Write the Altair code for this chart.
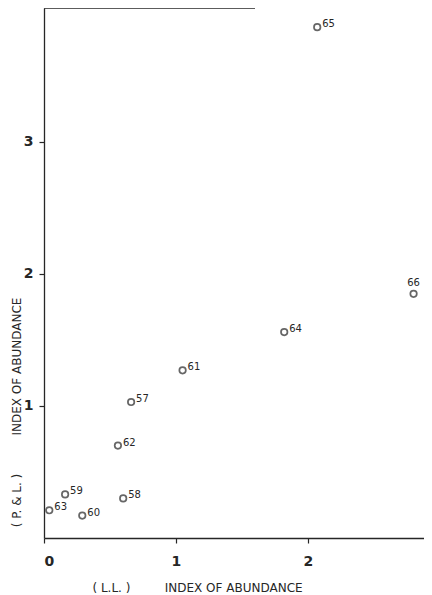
import altair as alt
import pandas as pd

# index of abundance, L.L. (x) against P. & L. (y), one point per year
years = ["57", "58", "59", "60", "61", "62", "63", "64", "65", "66"]
ll_index = [0.66, 0.60, 0.16, 0.29, 1.05, 0.56, 0.04, 1.82, 2.07, 2.80]
pl_index = [1.03, 0.30, 0.33, 0.17, 1.27, 0.70, 0.21, 1.56, 3.87, 1.85]

x_ticks = [0, 1, 2]
y_ticks = [1, 2, 3]

INK = "#262626"
FONT = "DejaVu Sans"
NB = "\u00a0"

df = pd.DataFrame({"year": years, "ll": ll_index, "pl": pl_index})

x_scale = alt.Scale(domain=[0, 2.879], nice=False, zero=True)
y_scale = alt.Scale(domain=[0, 4.015], nice=False, zero=True)

x_axis = alt.Axis(
    values=x_ticks,
    grid=False,
    domainColor=INK,
    domainWidth=1.3,
    tickColor=INK,
    tickSize=5,
    tickWidth=1.2,
    labelColor=INK,
    labelFont=FONT,
    labelFontSize=14,
    labelFontWeight="bold",
    labelPadding=11,
    title=f"( L.L. ){NB * 9}INDEX{NB}OF{NB}ABUNDANCE",
    titleFont=FONT,
    titleFontSize=12,
    titleFontWeight=500,
    titleColor=INK,
    titleX=153,
    titleY=53,
    titleBaseline="alphabetic",
    titleAlign="center",
)
y_axis = alt.Axis(
    values=y_ticks,
    grid=False,
    domainColor=INK,
    domainWidth=1.3,
    tickColor=INK,
    tickSize=5,
    tickWidth=1.2,
    labelColor=INK,
    labelFont=FONT,
    labelFontSize=14,
    labelFontWeight="bold",
    labelPadding=6,
    title=f"( P. & L. ){NB * 10}INDEX{NB}OF{NB}ABUNDANCE",
    titleFont=FONT,
    titleFontSize=12,
    titleFontWeight=500,
    titleColor=INK,
    titleAngle=270,
    titleX=-28,
    titleY=404,
    titleBaseline="middle",
    titleAlign="center",
)

base = alt.Chart(df).encode(
    x=alt.X("ll:Q", scale=x_scale, axis=x_axis),
    y=alt.Y("pl:Q", scale=y_scale, axis=y_axis),
)

points = base.mark_point(shape="circle", filled=False, size=42, strokeWidth=1.7, color=INK)

labels = base.transform_filter(alt.datum.year != "66").mark_text(
    align="left", baseline="middle", dx=5, dy=-3, font=FONT, fontSize=10, color=INK
).encode(text="year:N")

label_above = base.transform_filter(alt.datum.year == "66").mark_text(
    align="center", baseline="bottom", dy=-6, font=FONT, fontSize=10, color=INK
).encode(text="year:N")

# partial top frame line, as in the original figure
top_line = alt.Chart(df.head(1)).mark_rule(color=INK, strokeWidth=1.3).encode(
    x=alt.value(0), x2=alt.value(211), y=alt.value(0)
)

chart = (
    alt.layer(top_line, points, labels, label_above)
    .properties(
        width=380,
        height=530,
        autosize=alt.AutoSizeParams(type="none"),
        padding={"left": 36, "top": 0, "right": 0, "bottom": 57},
        background="white",
    )
    .configure_view(stroke=None)
)

chart.save("out.html", embed_options={"renderer": "svg", "actions": False})
